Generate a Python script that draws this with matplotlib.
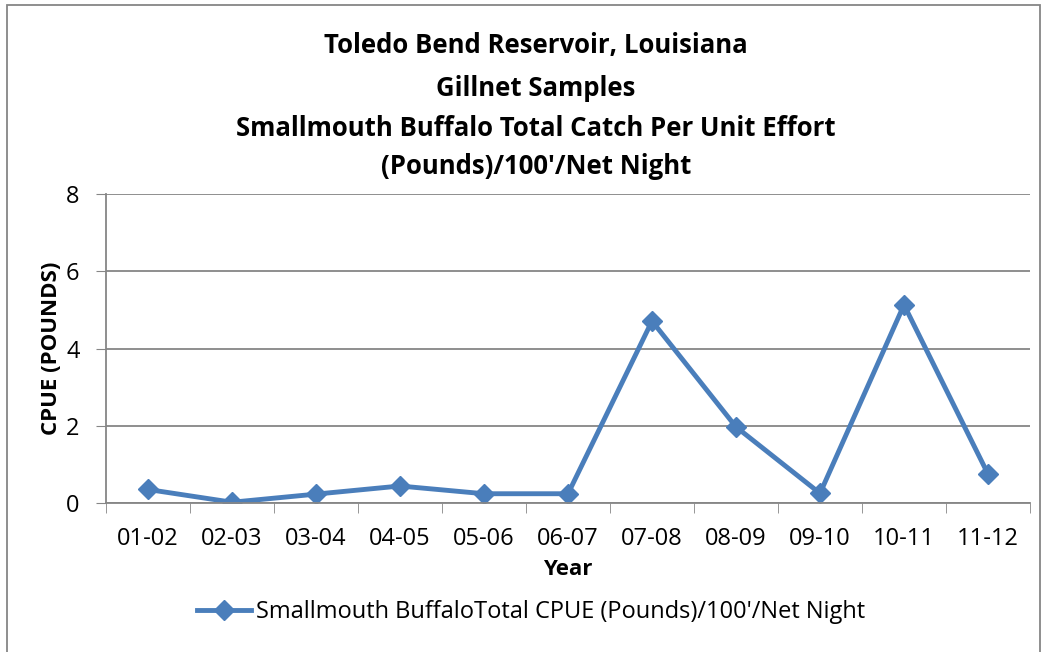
import matplotlib.pyplot as plt
from matplotlib.patches import Rectangle

years = ['01-02', '02-03', '03-04', '04-05', '05-06', '06-07',
         '07-08', '08-09', '09-10', '10-11', '11-12']
cpue = [0.35, 0.02, 0.23, 0.44, 0.24, 0.24, 4.71, 1.97, 0.25, 5.13, 0.75]

title_lines = ['Toledo Bend Reservoir, Louisiana',
               'Gillnet Samples',
               'Smallmouth Buffalo Total Catch Per Unit Effort',
               "(Pounds)/100'/Net Night"]

plt.rcParams['font.family'] = ['Open Sans', 'DejaVu Sans']

fig = plt.figure(figsize=(10.45, 6.52), dpi=100)
ax = fig.add_axes([106 / 1045, 1 - 503 / 652, 924 / 1045, 309 / 652])

x = range(len(years))
ax.plot(x, cpue, color='#4a7ebb', linewidth=3.5, marker='D', markersize=10,
        label="Smallmouth BuffaloTotal CPUE (Pounds)/100'/Net Night")

ax.set_xlim(-0.5, len(years) - 0.5)
ax.set_ylim(0, 8)
ax.set_yticks([0, 2, 4, 6, 8])
ax.set_xticks(x)
ax.set_xticklabels(years, fontsize=17)
ax.set_xticks([i - 0.5 for i in range(len(years) + 1)], minor=True)
ax.tick_params(axis='x', which='major', length=0, pad=17)
ax.tick_params(axis='x', which='minor', length=7, color='#868686', direction='out')
ax.tick_params(axis='y', length=7, color='#868686', labelsize=17, pad=12)
ax.grid(axis='y', color='#868686', linewidth=1.3)
ax.set_axisbelow(True)
for s in ['top', 'right']:
    ax.spines[s].set_visible(False)
for s in ['left', 'bottom']:
    ax.spines[s].set_color('#868686')
    ax.spines[s].set_linewidth(1.3)

ax.set_xlabel('Year', fontsize=16, fontweight='bold', labelpad=6)
ax.set_ylabel('CPUE (POUNDS)', fontsize=16, fontweight='bold', labelpad=3)

title_y = [45, 89, 129, 167]
for line, yy in zip(title_lines, title_y):
    fig.text(0.513, 1 - yy / 652, line, ha='center', va='center',
             fontsize=18.5, fontweight='bold')

ax.legend(loc='center', bbox_to_anchor=(0.508, 1 - 612 / 652), bbox_transform=fig.transFigure,
          frameon=False, fontsize=17, handlelength=2.3, handletextpad=0.2)

fig.patches.append(Rectangle((7 / 1045, -0.01), 1033 / 1045, 1.0 - 5 / 652 + 0.01,
                             transform=fig.transFigure, fill=False,
                             edgecolor='#868686', linewidth=1.3))

fig.savefig('out.png', dpi=100)
